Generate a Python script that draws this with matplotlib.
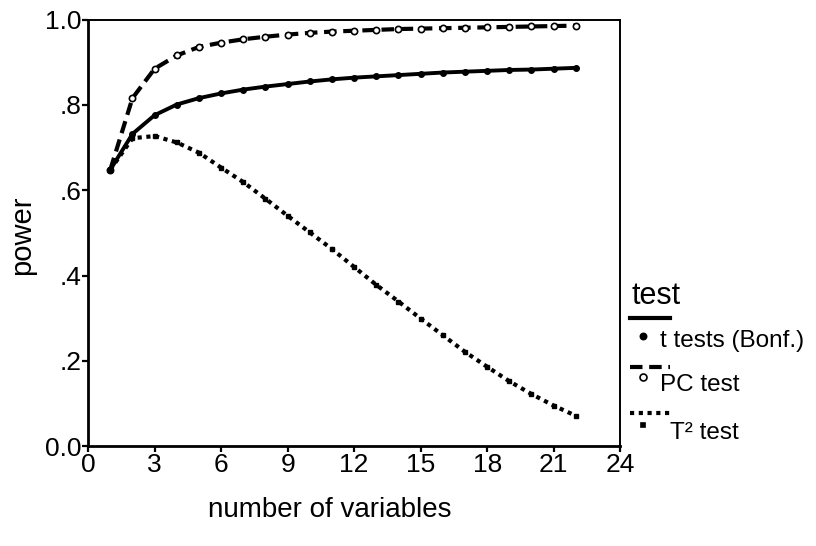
import numpy as np
import matplotlib
matplotlib.use("Agg")
import matplotlib.pyplot as plt
from matplotlib.lines import Line2D

plt.rcParams['font.family'] = ['Liberation Sans', 'DejaVu Sans']

n_vars = [1, 2, 3, 4, 5, 6, 7, 8, 9, 10, 11, 12, 13, 14, 15, 16, 17, 18, 19, 20, 21, 22]
t_tests = [0.648, 0.732, 0.776, 0.801, 0.816, 0.827, 0.836, 0.843, 0.849, 0.855, 0.860,
           0.864, 0.867, 0.870, 0.873, 0.876, 0.878, 0.880, 0.882, 0.883, 0.885, 0.887]
pc_test = [0.648, 0.816, 0.885, 0.916, 0.936, 0.946, 0.954, 0.960, 0.965, 0.969, 0.972,
           0.974, 0.976, 0.978, 0.979, 0.980, 0.981, 0.982, 0.983, 0.984, 0.985, 0.986]
t2_test = [0.648, 0.722, 0.727, 0.712, 0.688, 0.653, 0.619, 0.580, 0.540, 0.501, 0.462,
           0.420, 0.378, 0.339, 0.299, 0.260, 0.221, 0.186, 0.152, 0.122, 0.095, 0.071]

x_ticks = [0, 3, 6, 9, 12, 15, 18, 21, 24]
y_ticks = [0.0, 0.2, 0.4, 0.6, 0.8, 1.0]
y_labels = ['0.0', '.2', '.4', '.6', '.8', '1.0']

fig = plt.figure(figsize=(8.16, 5.46), dpi=100)
ax = fig.add_axes([0.108, 0.183, 0.652, 0.781])

ax.plot(n_vars, t_tests, color='black', lw=2.8, ls='-',
        marker='o', ms=4, mfc='black', mec='black')
ax.plot(n_vars, pc_test, color='black', lw=3.0, ls=(0, (3, 1.6)),
        marker='o', ms=4.5, mfc='white', mec='black', mew=1.2)
ax.plot(n_vars, t2_test, color='black', lw=3.0, ls=(0, (1, 1.1)),
        marker='s', ms=3, mfc='black', mec='black')

ax.set_xlim(0, 24)
ax.set_ylim(0, 1.0)
ax.set_xticks(x_ticks)
ax.set_yticks(y_ticks)
ax.set_yticklabels(y_labels)
ax.tick_params(direction='out', length=4, width=1.6, labelsize=19, pad=1)
for side in ['left', 'bottom']:
    ax.spines[side].set_linewidth(2)
for side in ['top', 'right']:
    ax.spines[side].set_linewidth(1.4)

fig.text(0.027, 0.57, 'power', rotation=90, fontsize=21, ha='center', va='center')
fig.text(0.404, 0.066, 'number of variables', fontsize=20, ha='center', va='center')

# legend drawn by hand to mimic original layout
fig.text(0.774, 0.458, 'test', fontsize=22, ha='left', va='center')
styles = [('-', 'o', 'black', 'black', 4.5, 't tests (Bonf.)', 0.418, 0.385, 0.375, 0.809),
          ((0, (3, 1.6)), 'o', 'white', 'black', 5, 'PC test', 0.328, 0.310, 0.295, 0.809),
          ((0, (1, 1.1)), 's', 'black', 'black', 3.2, 'T² test', 0.244, 0.222, 0.207, 0.821)]
for ls, mk, mfc, mec, ms, label, yl, ym, yt, xt in styles:
    fig.add_artist(Line2D([0.772, 0.821], [yl, yl], color='black', lw=3.0, ls=ls,
                          transform=fig.transFigure))
    fig.add_artist(Line2D([0.788], [ym], marker=mk, ms=ms, mfc=mfc, mec=mec,
                          mew=1.2, ls='none', transform=fig.transFigure))
    fig.text(xt, yt, label, fontsize=17.5, ha='left', va='center')

fig.savefig('out.png', dpi=100)
